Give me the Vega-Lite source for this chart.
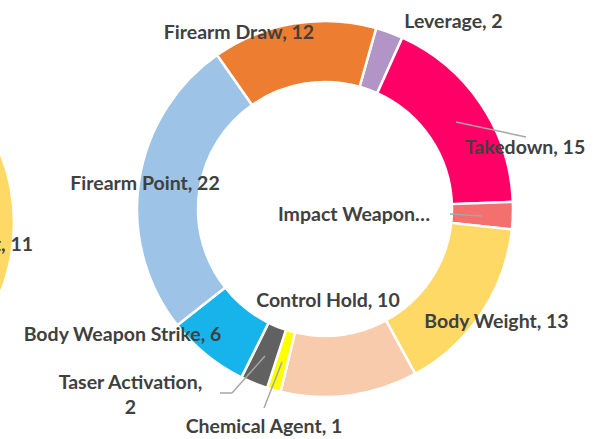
{
  "$schema": "https://vega.github.io/schema/vega-lite/v6.json",
  "width": 615,
  "height": 439,
  "autosize": {"type": "none"},
  "padding": 0,
  "background": "#ffffff",
  "config": {
    "view": {"stroke": null},
    "text": {"font": "Lato", "fontWeight": "bold", "fontSize": 19.5, "color": "#404040"}
  },
  "datasets": {
    "main": [
      {"chart": "main", "order": 1, "category": "Leverage", "value": 2, "label": "Leverage, 2"},
      {"chart": "main", "order": 2, "category": "Takedown", "value": 15, "label": "Takedown, 15"},
      {"chart": "main", "order": 3, "category": "Impact Weapon", "value": 2, "label": "Impact Weapon…"},
      {"chart": "main", "order": 4, "category": "Body Weight", "value": 13, "label": "Body Weight, 13"},
      {"chart": "main", "order": 5, "category": "Control Hold", "value": 10, "label": "Control Hold, 10"},
      {"chart": "main", "order": 6, "category": "Chemical Agent", "value": 1, "label": "Chemical Agent, 1"},
      {"chart": "main", "order": 7, "category": "Taser Activation", "value": 2, "label": "Taser Activation,\n2"},
      {"chart": "main", "order": 8, "category": "Body Weapon Strike", "value": 6, "label": "Body Weapon Strike, 6"},
      {"chart": "main", "order": 9, "category": "Firearm Point", "value": 22, "label": "Firearm Point, 22"},
      {"chart": "main", "order": 10, "category": "Firearm Draw", "value": 12, "label": "Firearm Draw, 12"}
    ],
    "left": [
      {"chart": "left", "order": 1, "category": "Body Weight", "value": 11, "label": "Body Weight, 11"}
    ]
  },
  "encoding": {
    "x": {"field": "chart", "type": "nominal", "scale": {"type": "point", "domain": ["left", "main"], "range": [-174, 325], "padding": 0}, "axis": null},
    "y": {"field": "chart", "type": "nominal", "scale": {"type": "point", "domain": ["left", "main"], "range": [223, 209], "padding": 0}, "axis": null}
  },
  "resolve": {"scale": {"theta": "independent"}},
  "layer": [
    {
      "data": {"name": "left"},
      "encoding": {
        "theta": {"field": "value", "type": "quantitative", "stack": true, "scale": {"domain": [0, 85], "range": [1.16413, 7.44732]}}
      },
      "layer": [
        {
          "mark": {"type": "arc", "radius": 188, "radius2": 127, "stroke": "#ffffff", "strokeWidth": 2.5},
          "encoding": {
            "color": {"field": "category", "type": "nominal", "legend": null,
              "scale": {"domain": ["Leverage", "Takedown", "Impact Weapon", "Body Weight", "Control Hold", "Chemical Agent", "Taser Activation", "Body Weapon Strike", "Firearm Point", "Firearm Draw"],
                        "range": ["#B294C7", "#FF0066", "#F4706F", "#FFD966", "#F8CBAD", "#FFFF00", "#616161", "#17B4EB", "#9DC3E6", "#ED7D31"]}}
          }
        },
        {
          "mark": {"type": "text", "radius": 207, "align": "right", "baseline": "middle", "dy": 22},
          "encoding": {"text": {"field": "label", "type": "nominal"}}
        }
      ]
    },
    {
      "data": {"name": "main"},
      "encoding": {
        "theta": {"field": "value", "type": "quantitative", "stack": true, "scale": {"range": [0.27576, 6.55895]}},
        "order": {"field": "order", "type": "quantitative"}
      },
      "layer": [
        {
          "mark": {"type": "arc", "radius": 188, "radius2": 127, "stroke": "#ffffff", "strokeWidth": 2.5},
          "encoding": {
            "color": {"field": "category", "type": "nominal", "legend": null,
              "scale": {"domain": ["Leverage", "Takedown", "Impact Weapon", "Body Weight", "Control Hold", "Chemical Agent", "Taser Activation", "Body Weapon Strike", "Firearm Point", "Firearm Draw"],
                        "range": ["#B294C7", "#FF0066", "#F4706F", "#FFD966", "#F8CBAD", "#FFFF00", "#616161", "#17B4EB", "#9DC3E6", "#ED7D31"]}}
          }
        },
        {
          "mark": {"type": "text", "radius": 157, "align": "center", "baseline": "middle", "dx": 74.7, "dy": -40},
          "encoding": {"text": {"condition": {"test": "datum.category === 'Leverage'", "field": "label", "type": "nominal"}, "value": ""}}
        },
        {
          "mark": {"type": "text", "radius": 157, "align": "center", "baseline": "middle", "dx": 69.8, "dy": 26.7},
          "encoding": {"text": {"condition": {"test": "datum.category === 'Takedown'", "field": "label", "type": "nominal"}, "value": ""}}
        },
        {
          "mark": {"type": "text", "radius": 157, "align": "center", "baseline": "middle", "dx": -127.9, "dy": 0.4},
          "encoding": {"text": {"condition": {"test": "datum.category === 'Impact Weapon'", "field": "label", "type": "nominal"}, "value": ""}}
        },
        {
          "mark": {"type": "text", "radius": 157, "align": "center", "baseline": "middle", "dx": 41, "dy": 25.7},
          "encoding": {"text": {"condition": {"test": "datum.category === 'Body Weight'", "field": "label", "type": "nominal"}, "value": ""}}
        },
        {
          "mark": {"type": "text", "radius": 157, "align": "center", "baseline": "middle", "dx": -17.5, "dy": -63.7},
          "encoding": {"text": {"condition": {"test": "datum.category === 'Control Hold'", "field": "label", "type": "nominal"}, "value": ""}}
        },
        {
          "mark": {"type": "text", "radius": 157, "align": "center", "baseline": "middle", "dx": -18.3, "dy": 66.9},
          "encoding": {"text": {"condition": {"test": "datum.category === 'Chemical Agent'", "field": "label", "type": "nominal"}, "value": ""}}
        },
        {
          "mark": {"type": "text", "radius": 157, "align": "center", "baseline": "middle", "dx": -135.3, "dy": 28.6, "lineBreak": "\n", "lineHeight": 25},
          "encoding": {"text": {"condition": {"test": "datum.category === 'Taser Activation'", "field": "label", "type": "nominal"}, "value": ""}}
        },
        {
          "mark": {"type": "text", "radius": 157, "align": "center", "baseline": "middle", "dx": -103.5, "dy": 4.2},
          "encoding": {"text": {"condition": {"test": "datum.category === 'Body Weapon Strike'", "field": "label", "type": "nominal"}, "value": ""}}
        },
        {
          "mark": {"type": "text", "radius": 157, "align": "center", "baseline": "middle", "dx": -24.7, "dy": -2.1},
          "encoding": {"text": {"condition": {"test": "datum.category === 'Firearm Point'", "field": "label", "type": "nominal"}, "value": ""}}
        },
        {
          "mark": {"type": "text", "radius": 157, "align": "center", "baseline": "middle", "dx": -59.8, "dy": -21.2},
          "encoding": {"text": {"condition": {"test": "datum.category === 'Firearm Draw'", "field": "label", "type": "nominal"}, "value": ""}}
        }
      ]
    },
    {
      "data": {"name": "main"},
      "encoding": {
        "x2": {"field": "chart"},
        "y2": {"field": "chart"}
      },
      "layer": [
        {
          "transform": [{"filter": "datum.category === 'Takedown'"}],
          "mark": {"type": "rule", "color": "#A6A6A6", "strokeWidth": 1.5, "xOffset": 131, "yOffset": -87, "x2Offset": 201, "y2Offset": -72}
        },
        {
          "transform": [{"filter": "datum.category === 'Impact Weapon'"}],
          "mark": {"type": "rule", "color": "#A6A6A6", "strokeWidth": 1.5, "xOffset": 125, "yOffset": 5, "x2Offset": 157, "y2Offset": 7}
        },
        {
          "transform": [{"filter": "datum.category === 'Chemical Agent'"}],
          "mark": {"type": "rule", "color": "#A6A6A6", "strokeWidth": 1.5, "xOffset": -43, "yOffset": 153, "x2Offset": -61, "y2Offset": 199}
        },
        {
          "transform": [{"filter": "datum.category === 'Taser Activation'"}],
          "mark": {"type": "rule", "color": "#A6A6A6", "strokeWidth": 1.5, "xOffset": -60, "yOffset": 147, "x2Offset": -93, "y2Offset": 184}
        },
        {
          "transform": [{"filter": "datum.category === 'Taser Activation'"}],
          "mark": {"type": "rule", "color": "#A6A6A6", "strokeWidth": 1.5, "xOffset": -93, "yOffset": 184, "x2Offset": -105, "y2Offset": 184}
        }
      ]
    }
  ]
}
